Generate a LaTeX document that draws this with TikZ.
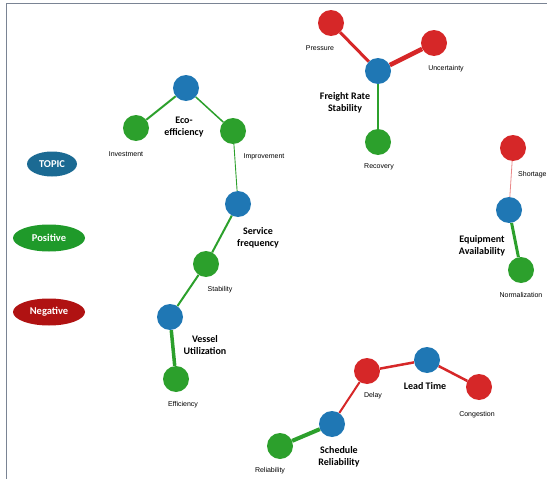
\documentclass[tikz,border=0pt]{standalone}
\usepackage{fontspec}
\setmainfont{Liberation Sans}
\newfontfamily\headfont{Carlito}
\usepackage{tikz}
\usetikzlibrary{positioning, shapes.geometric, backgrounds}

\definecolor{topicblue}{HTML}{1F77B4}
\definecolor{posgreen}{HTML}{2CA02C}
\definecolor{negred}{HTML}{D62728}
\definecolor{legblue}{HTML}{1B6A93}
\definecolor{leggreen}{HTML}{1F9A2A}
\definecolor{legred}{HTML}{B01212}
\definecolor{framegray}{HTML}{7A8494}

\begin{document}
\begin{tikzpicture}[x=1pt, y=-1pt,
    dot/.style={circle, minimum size=26pt, inner sep=0pt},
    topicdot/.style={dot, fill=topicblue},
    posdot/.style={dot, fill=posgreen},
    negdot/.style={dot, fill=negred},
    lbl/.style={font=\fontsize{7}{8}\selectfont, inner sep=0pt},
    tlbl/.style={font=\headfont\bfseries\fontsize{10}{11.5}\selectfont, align=center, inner sep=0pt},
    leg/.style={ellipse, inner sep=0pt, text=white, font=\headfont\bfseries\fontsize{10.5}{12}\selectfont}]
    \useasboundingbox (0,0) rectangle (547,479);
    % frame of the canvas
    \draw[framegray, line width=1.2pt] (6.5,479) -- (6.5,3.5) -- (547,3.5);
    % legend
    \node[leg, fill=legblue, minimum width=50pt, minimum height=25pt] (legtopic) at (52,164) {TOPIC};
    \node[leg, fill=leggreen, minimum width=72pt, minimum height=27pt] (legpos) at (49,238) {Positive};
    \node[leg, fill=legred, minimum width=72pt, minimum height=27pt] (legneg) at (49,312) {Negative};
    % topics
    \foreach \n/\x/\y in {eco/186/88, serv/238/204, vessel/170/317, freight/378/71,
                          equip/509/210, lead/427/360, sched/332/424} {
        \node[topicdot] (\n) at (\x,\y) {};
    }
    % positive terms
    \foreach \n/\x/\y in {invest/136/128, improve/233/131, stab/206/264, effic/176/379,
                          recov/378/142, normal/521/270, reliab/280/446} {
        \node[posdot] (\n) at (\x,\y) {};
    }
    % negative terms
    \foreach \n/\x/\y in {press/331/23, uncert/434/43, short/513/148, delay/367/371,
                          congest/479/387} {
        \node[negdot] (\n) at (\x,\y) {};
    }
    % connectors, behind the circles
    \begin{scope}[on background layer]
        \draw[posgreen, line width=2pt] (eco) -- (invest);
        \draw[posgreen, line width=1.5pt] (eco) -- (improve);
        \draw[posgreen, line width=0.9pt] (improve) -- (serv);
        \draw[posgreen, line width=2pt] (serv) -- (stab);
        \draw[posgreen, line width=2pt] (stab) -- (vessel);
        \draw[posgreen, line width=3.5pt] (vessel) -- (effic);
        \draw[negred, line width=3pt] (freight) -- (press);
        \draw[negred, line width=4.5pt] (freight) -- (uncert);
        \draw[posgreen, line width=1.2pt] (freight) -- (recov);
        \draw[negred!55, line width=0.8pt] (equip) -- (short);
        \draw[posgreen, line width=3pt] (equip) -- (normal);
        \draw[negred, line width=2.5pt] (delay) -- (lead);
        \draw[negred, line width=2.5pt] (lead) -- (congest);
        \draw[negred, line width=2pt] (delay) -- (sched);
        \draw[posgreen, line width=4pt] (sched) -- (reliab);
    \end{scope}
    % topic labels
    \node[tlbl] (ecolbl) at (184,127) {Eco-\\efficiency};
    \node[tlbl] (servlbl) at (258,238) {Service\\frequency};
    \node[tlbl] (vessellbl) at (205,345) {Vessel\\Utilization};
    \node[tlbl] (freightlbl) at (345,103) {Freight Rate\\Stability};
    \node[tlbl] (equiplbl) at (482,246) {Equipment\\Availability};
    \node[tlbl] (leadlbl) at (425,386) {Lead Time};
    \node[tlbl] (schedlbl) at (339,457) {Schedule\\Reliability};
    % term labels
    \node[lbl] (investlbl) at (126,154) {Investment};
    \node[lbl] (improvelbl) at (264,157) {Improvement};
    \node[lbl] (stablbl) at (220,290) {Stability};
    \node[lbl] (efficlbl) at (183,405) {Efficiency};
    \node[lbl] (presslbl) at (320,48) {Pressure};
    \node[lbl] (uncertlbl) at (446,69) {Uncertainty};
    \node[lbl] (recovlbl) at (379,167) {Recovery};
    \node[lbl, anchor=west] (shortlbl) at (518,175) {Shortage};
    \node[lbl] (normallbl) at (521,295) {Normalization};
    \node[lbl] (delaylbl) at (373,396) {Delay};
    \node[lbl] (congestlbl) at (477,415) {Congestion};
    \node[lbl] (reliablbl) at (270,471) {Reliability};
\end{tikzpicture}
\end{document}
